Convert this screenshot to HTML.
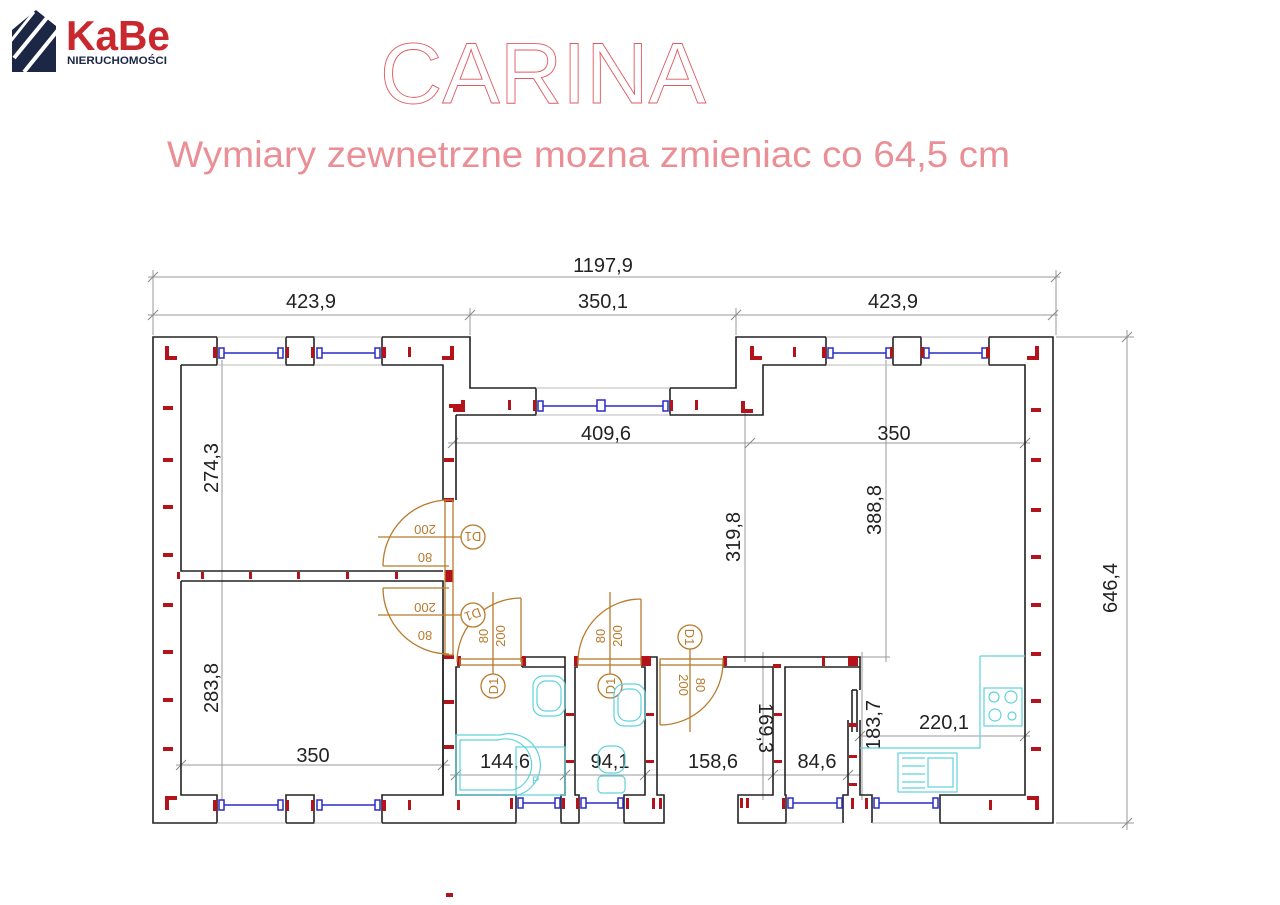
<!DOCTYPE html>
<html><head><meta charset="utf-8"><style>
html,body{margin:0;padding:0;background:#fff;}
svg{display:block;}
</style></head><body>
<svg width="1280" height="905" viewBox="0 0 1280 905" xmlns="http://www.w3.org/2000/svg" font-family="Liberation Sans, sans-serif">
<!-- Logo -->
<g>
<polygon points="12,72 12,30 36,10 56,26 56,72" fill="#1c2746"/>
<line x1="14" y1="58" x2="50" y2="14" stroke="#fff" stroke-width="4"/>
<line x1="24" y1="72" x2="58" y2="30" stroke="#fff" stroke-width="4"/>
<line x1="10" y1="42" x2="34" y2="12" stroke="#fff" stroke-width="3"/>
<text x="66" y="50" font-size="42" font-weight="bold" fill="#c8282e" textLength="104" lengthAdjust="spacingAndGlyphs">KaBe</text>
<text x="67" y="64" font-size="11" font-weight="bold" fill="#1c2746" textLength="100" lengthAdjust="spacingAndGlyphs">NIERUCHOMOŚCI</text>
</g>
<!-- Titles -->
<text x="380" y="103" font-size="86" fill="none" stroke="#e05a63" stroke-width="0.9" textLength="326" lengthAdjust="spacingAndGlyphs">CARINA</text>
<text x="167" y="167" font-size="37" fill="#ea8f95" textLength="843" lengthAdjust="spacingAndGlyphs">Wymiary zewnetrzne mozna zmieniac co 64,5 cm</text>

<!-- dimension lines -->
<g stroke="#999" stroke-width="1" fill="none">
<line x1="148" y1="277" x2="1060" y2="277"/>
<line x1="153" y1="270" x2="153" y2="335"/><line x1="1056" y1="270" x2="1056" y2="335"/>
<line x1="148" y1="315" x2="1058" y2="315"/>
<line x1="470" y1="308" x2="470" y2="335"/><line x1="736" y1="308" x2="736" y2="335"/>
<line x1="1127" y1="330" x2="1127" y2="830"/>
<line x1="1056" y1="337" x2="1134" y2="337"/><line x1="1056" y1="823" x2="1134" y2="823"/>
<line x1="222" y1="360" x2="222" y2="800"/>
<line x1="176" y1="765" x2="450" y2="765"/>
<line x1="448" y1="443" x2="1030" y2="443"/>
<line x1="745" y1="410" x2="745" y2="662"/>
<line x1="886" y1="360" x2="886" y2="662"/>
<line x1="740" y1="657" x2="890" y2="657"/>
<line x1="763" y1="652" x2="763" y2="800"/>
<line x1="862" y1="652" x2="862" y2="800"/>
<line x1="860" y1="736" x2="1030" y2="736"/>
<line x1="450" y1="775" x2="860" y2="775"/>
</g>
<g stroke="#888" stroke-width="1">
<line x1="148" y1="282" x2="158" y2="272"/><line x1="1051" y1="282" x2="1061" y2="272"/>
<line x1="148" y1="320" x2="158" y2="310"/><line x1="465" y1="320" x2="475" y2="310"/><line x1="731" y1="320" x2="741" y2="310"/><line x1="1048" y1="320" x2="1058" y2="310"/>
<line x1="1122" y1="342" x2="1132" y2="332"/><line x1="1122" y1="828" x2="1132" y2="818"/>
<line x1="448" y1="448" x2="458" y2="438"/><line x1="745" y1="448" x2="755" y2="438"/><line x1="1020" y1="448" x2="1030" y2="438"/>
<line x1="176" y1="770" x2="186" y2="760"/><line x1="438" y1="770" x2="448" y2="760"/>
<line x1="451" y1="780" x2="461" y2="770"/><line x1="560" y1="780" x2="570" y2="770"/><line x1="640" y1="780" x2="650" y2="770"/><line x1="768" y1="780" x2="778" y2="770"/><line x1="843" y1="780" x2="853" y2="770"/>
<line x1="855" y1="741" x2="865" y2="731"/><line x1="1020" y1="741" x2="1030" y2="731"/>
</g>
<g font-size="20" fill="#222" text-anchor="middle">
<text x="603" y="272">1197,9</text>
<text x="311" y="308">423,9</text>
<text x="603" y="308">350,1</text>
<text x="893" y="308">423,9</text>
<text x="606" y="440">409,6</text>
<text x="894" y="440">350</text>
<text x="313" y="762">350</text>
<text x="505" y="768">144,6</text>
<text x="610" y="768">94,1</text>
<text x="713" y="768">158,6</text>
<text x="817" y="768">84,6</text>
<text x="944" y="729">220,1</text>
<text transform="translate(1117,588) rotate(-90)">646,4</text>
<text transform="translate(218,468) rotate(-90)">274,3</text>
<text transform="translate(218,688) rotate(-90)">283,8</text>
<text transform="translate(740,537) rotate(-90)">319,8</text>
<text transform="translate(881,510) rotate(-90)">388,8</text>
<text transform="translate(759,728) rotate(90)">169,3</text>
<text transform="translate(880,725) rotate(-90)">183,7</text>
</g>

<!-- walls -->
<g stroke="#222" stroke-width="1.6" fill="none">
<polyline points="217,337 153,337 153,823 217,823"/>
<polyline points="286,337 286,365 314,365 314,337 286,337"/>
<polyline points="382,337 470,337 470,388 536,388"/>
<polyline points="382,337 382,365 443,365 443,415"/>
<line x1="217" y1="337" x2="217" y2="365"/><line x1="181" y1="365" x2="217" y2="365"/>
<polyline points="181,365 181,571 443,571"/>
<polyline points="181,581 181,795 217,795 217,823"/>
<polyline points="286,823 286,795 314,795 314,823 286,823"/>
<polyline points="382,823 382,795 443,795 443,581 181,581"/>
<line x1="443" y1="415" x2="443" y2="500"/>
<line x1="456" y1="415" x2="456" y2="500"/>
<line x1="443" y1="655" x2="443" y2="795"/>
<polyline points="382,823 516,823 516,795 456,795 456,667 460,667"/>
<polyline points="670,388 736,388 736,337 826,337"/>
<polyline points="536,388 536,415 456,415"/>
<polyline points="670,388 670,415 763,415 763,365 826,365 826,337"/>
<polyline points="893,337 893,365 921,365 921,337 893,337"/>
<polyline points="989,337 1053,337 1053,823 940,823 940,795 1025,795 1025,365 989,365 989,337"/>
<polyline points="522,657 565,657 565,795 561,795 561,823 579,823 579,795 575,795 575,667 578,667"/>
<polyline points="522,667 522,657"/>
<polyline points="641,657 657,657 657,795 664,795 664,823 624,823 624,795 645,795 645,667 641,667"/>
<polyline points="522,667 565,667"/>
<polyline points="723,657 860,657 860,667 785,667 785,795 786,795 786,823 738,823 738,795 773,795 773,667 723,667"/>
<polyline points="843,823 843,795 848,795 848,720"/>
<polyline points="860,667 860,690"/>
<polyline points="872,823 872,795 860,795 860,720"/>
<line x1="852" y1="690" x2="852" y2="732"/><line x1="857" y1="690" x2="857" y2="732"/>
<line x1="852" y1="690" x2="857" y2="690"/>
</g>
<g stroke="#bbb" stroke-width="1">
<line x1="217" y1="337" x2="286" y2="337"/><line x1="314" y1="337" x2="382" y2="337"/>
<line x1="217" y1="365" x2="286" y2="365"/><line x1="314" y1="365" x2="382" y2="365"/>
<line x1="826" y1="337" x2="893" y2="337"/><line x1="921" y1="337" x2="989" y2="337"/>
<line x1="826" y1="365" x2="893" y2="365"/><line x1="921" y1="365" x2="989" y2="365"/>
<line x1="536" y1="388" x2="670" y2="388"/><line x1="536" y1="415" x2="670" y2="415"/>
<line x1="217" y1="823" x2="286" y2="823"/><line x1="314" y1="823" x2="382" y2="823"/>
<line x1="516" y1="823" x2="561" y2="823"/><line x1="579" y1="823" x2="624" y2="823"/>
<line x1="786" y1="823" x2="843" y2="823"/><line x1="872" y1="823" x2="940" y2="823"/>
</g>
<g stroke="#2a2ac8" stroke-width="1.5" fill="#fff">
<line x1="222" y1="353" x2="280" y2="353"/><line x1="320" y1="353" x2="376" y2="353"/>
<line x1="831" y1="353" x2="887" y2="353"/><line x1="927" y1="353" x2="983" y2="353"/>
<line x1="541" y1="406" x2="665" y2="406"/>
<line x1="222" y1="805" x2="280" y2="805"/><line x1="320" y1="805" x2="376" y2="805"/>
<line x1="521" y1="803" x2="556" y2="803"/><line x1="584" y1="803" x2="619" y2="803"/>
<line x1="791" y1="803" x2="838" y2="803"/><line x1="877" y1="803" x2="935" y2="803"/>
<rect x="219" y="348" width="5" height="10"/><rect x="278" y="348" width="5" height="10"/><rect x="317" y="348" width="5" height="10"/><rect x="375" y="348" width="5" height="10"/>
<rect x="828" y="348" width="5" height="10"/><rect x="886" y="348" width="5" height="10"/><rect x="924" y="348" width="5" height="10"/><rect x="982" y="348" width="5" height="10"/>
<rect x="538" y="401" width="5" height="10"/><rect x="597" y="400" width="8" height="11"/><rect x="663" y="401" width="5" height="10"/>
<rect x="219" y="800" width="5" height="10"/><rect x="278" y="800" width="5" height="10"/><rect x="317" y="800" width="5" height="10"/><rect x="375" y="800" width="5" height="10"/>
<rect x="518" y="798" width="5" height="10"/><rect x="555" y="798" width="5" height="10"/><rect x="581" y="798" width="5" height="10"/><rect x="618" y="798" width="5" height="10"/>
<rect x="788" y="798" width="5" height="10"/><rect x="837" y="798" width="5" height="10"/><rect x="874" y="798" width="5" height="10"/><rect x="933" y="798" width="5" height="10"/>
</g>
<g fill="#b3131b">
<rect x="163" y="406" width="10" height="4"/><rect x="163" y="458" width="10" height="4"/><rect x="163" y="505" width="10" height="4"/><rect x="163" y="553" width="10" height="4"/>
<rect x="163" y="603" width="10" height="4"/><rect x="163" y="650" width="10" height="4"/><rect x="163" y="698" width="10" height="4"/><rect x="163" y="747" width="10" height="4"/>
<rect x="1031" y="408" width="10" height="4"/><rect x="1031" y="458" width="10" height="4"/><rect x="1031" y="508" width="10" height="4"/><rect x="1031" y="555" width="10" height="4"/>
<rect x="1031" y="603" width="10" height="4"/><rect x="1031" y="652" width="10" height="4"/><rect x="1031" y="699" width="10" height="4"/><rect x="1031" y="747" width="10" height="4"/>
<path d="M165,346h4v10h8v4h-12z"/><path d="M450,346h4v14h-12v-4h8z"/>
<path d="M165,796h12v4h-8v10h-4z"/><path d="M1035,346h4v14h-12v-4h8z"/>
<path d="M1027,796h12v14h-4v-10h-8z"/><path d="M750,346h4v10h8v4h-12z"/>
<path d="M741,401h4v8h8v4h-12z"/><path d="M449,404h12v-4h4v12h-12v-4h-4z"/>
<rect x="213" y="347" width="4" height="11"/><rect x="286" y="347" width="3" height="11"/><rect x="311" y="347" width="3" height="11"/><rect x="382" y="347" width="4" height="11"/><rect x="408" y="347" width="3" height="10"/>
<rect x="793" y="347" width="3" height="10"/><rect x="822" y="347" width="4" height="11"/><rect x="890" y="347" width="3" height="11"/><rect x="921" y="347" width="3" height="11"/><rect x="986" y="347" width="4" height="11"/>
<rect x="533" y="400" width="3" height="11"/><rect x="508" y="400" width="3" height="10"/><rect x="670" y="400" width="3" height="11"/><rect x="695" y="400" width="3" height="10"/>
<rect x="213" y="800" width="4" height="11"/><rect x="286" y="800" width="3" height="11"/><rect x="311" y="800" width="3" height="11"/><rect x="382" y="800" width="4" height="11"/><rect x="408" y="800" width="3" height="10"/>
<rect x="510" y="798" width="3" height="11"/><rect x="457" y="800" width="3" height="10"/><rect x="562" y="798" width="3" height="11"/><rect x="576" y="798" width="3" height="11"/>
<rect x="626" y="798" width="3" height="11"/><rect x="652" y="798" width="3" height="11"/><rect x="659" y="798" width="3" height="11"/>
<rect x="740" y="798" width="3" height="10"/><rect x="746" y="798" width="3" height="10"/><rect x="782" y="798" width="3" height="11"/><rect x="851" y="798" width="3" height="11"/><rect x="865" y="798" width="3" height="11"/>
<rect x="989" y="800" width="3" height="10"/>
<rect x="177" y="572" width="3" height="7"/><rect x="201" y="572" width="3" height="7"/><rect x="249" y="572" width="3" height="7"/><rect x="297" y="572" width="3" height="7"/><rect x="346" y="572" width="3" height="7"/><rect x="395" y="572" width="3" height="7"/>
<rect x="445" y="570" width="8" height="12"/>
<rect x="444" y="458" width="10" height="4"/><rect x="444" y="498" width="10" height="4"/><rect x="444" y="655" width="10" height="4"/><rect x="444" y="700" width="10" height="4"/><rect x="444" y="745" width="10" height="4"/>
<rect x="457" y="656" width="4" height="10"/><rect x="522" y="656" width="4" height="10"/><rect x="574" y="656" width="4" height="10"/><rect x="641" y="656" width="10" height="10"/><rect x="723" y="656" width="4" height="10"/>
<rect x="566" y="713" width="8" height="3"/><rect x="566" y="760" width="8" height="3"/><rect x="646" y="713" width="8" height="3"/><rect x="646" y="760" width="8" height="3"/>
<rect x="774" y="713" width="8" height="3"/><rect x="774" y="760" width="8" height="3"/><rect x="773" y="664" width="8" height="4"/>
<rect x="822" y="656" width="3" height="10"/><rect x="848" y="656" width="10" height="10"/>
<rect x="849" y="723" width="8" height="4"/><rect x="849" y="755" width="8" height="3"/><rect x="849" y="783" width="8" height="3"/>
<rect x="446" y="893" width="7" height="4"/>
</g>
<g stroke="#b87a2c" stroke-width="1.3" fill="none">
<path d="M449,500 A66,66 0 0 0 383,566"/><line x1="383" y1="566" x2="449" y2="566"/><line x1="378" y1="537" x2="461" y2="537"/>
<path d="M383,588 A66,66 0 0 0 449,654"/><line x1="383" y1="588" x2="449" y2="588"/><line x1="378" y1="615" x2="461" y2="615"/>
<rect x="445" y="500" width="8" height="155"/>
<path d="M457,662 A64,64 0 0 1 521,598"/><line x1="521" y1="598" x2="521" y2="662"/><line x1="493" y1="592" x2="493" y2="695"/>
<path d="M578,662 A63,63 0 0 1 641,599"/><line x1="641" y1="599" x2="641" y2="662"/><line x1="610" y1="592" x2="610" y2="695"/>
<path d="M660,725 A63,63 0 0 0 723,662"/><line x1="660" y1="662" x2="660" y2="725"/><line x1="690" y1="625" x2="690" y2="732"/>
<rect x="460" y="659" width="62" height="6"/><rect x="578" y="659" width="63" height="6"/><rect x="660" y="659" width="63" height="6"/>
<circle cx="473" cy="537" r="12" fill="#fff"/><circle cx="473" cy="615" r="12" fill="#fff"/>
<circle cx="493" cy="686" r="12" fill="#fff"/><circle cx="610" cy="686" r="12" fill="#fff"/><circle cx="690" cy="637" r="12" fill="#fff"/>
</g>
<g font-size="13" fill="#b87a2c" text-anchor="middle">
<text transform="translate(473,537) rotate(180)" dy="5">D1</text>
<text transform="translate(473,615) rotate(160)" dy="5">D1</text>
<text transform="translate(493,686) rotate(-90)" dy="5">D1</text>
<text transform="translate(610,686) rotate(-90)" dy="5">D1</text>
<text transform="translate(690,637) rotate(90)" dy="5">D1</text>
<text transform="translate(425,525) rotate(180)">200</text><text transform="translate(425,553) rotate(180)">80</text>
<text transform="translate(425,603) rotate(180)">200</text><text transform="translate(425,631) rotate(180)">80</text>
<text transform="translate(488,636) rotate(-90)">80</text><text transform="translate(505,636) rotate(-90)">200</text>
<text transform="translate(605,636) rotate(-90)">80</text><text transform="translate(622,636) rotate(-90)">200</text>
<text transform="translate(696,685) rotate(90)">80</text><text transform="translate(679,685) rotate(90)">200</text>
</g>
<g stroke="#5fd3dc" stroke-width="1.2" fill="none">
<rect x="533" y="676" width="32" height="40" rx="10"/><rect x="537" y="681" width="24" height="30" rx="9"/>
<rect x="614" y="684" width="31" height="42" rx="10"/><rect x="618" y="689" width="23" height="32" rx="9"/>
<path d="M456,795 V735 H500 A30,30 0 0 1 518,795 Z"/><path d="M460,790 V740 H498 A24,24 0 0 1 513,790 Z"/>
<rect x="516" y="747" width="49" height="48"/><text x="532" y="784" font-size="11" fill="#5fd3dc" stroke="none">P</text>
<rect x="598" y="746" width="27" height="27" rx="10"/><rect x="598" y="776" width="27" height="17" rx="4"/>
<polyline points="980,656 1025,656"/><polyline points="980,656 980,748 860,748"/>
<rect x="984" y="688" width="38" height="38"/>
<circle cx="994" cy="697" r="5"/><circle cx="1011" cy="697" r="6"/><circle cx="995" cy="715" r="6"/><circle cx="1012" cy="716" r="4"/>
<rect x="898" y="753" width="59" height="39"/><rect x="928" y="758" width="25" height="29"/>
<line x1="902" y1="758" x2="925" y2="758"/><line x1="902" y1="766" x2="925" y2="766"/><line x1="902" y1="774" x2="925" y2="774"/><line x1="902" y1="782" x2="925" y2="782"/><line x1="902" y1="788" x2="925" y2="788"/>
</g>
</svg>
</body></html>
